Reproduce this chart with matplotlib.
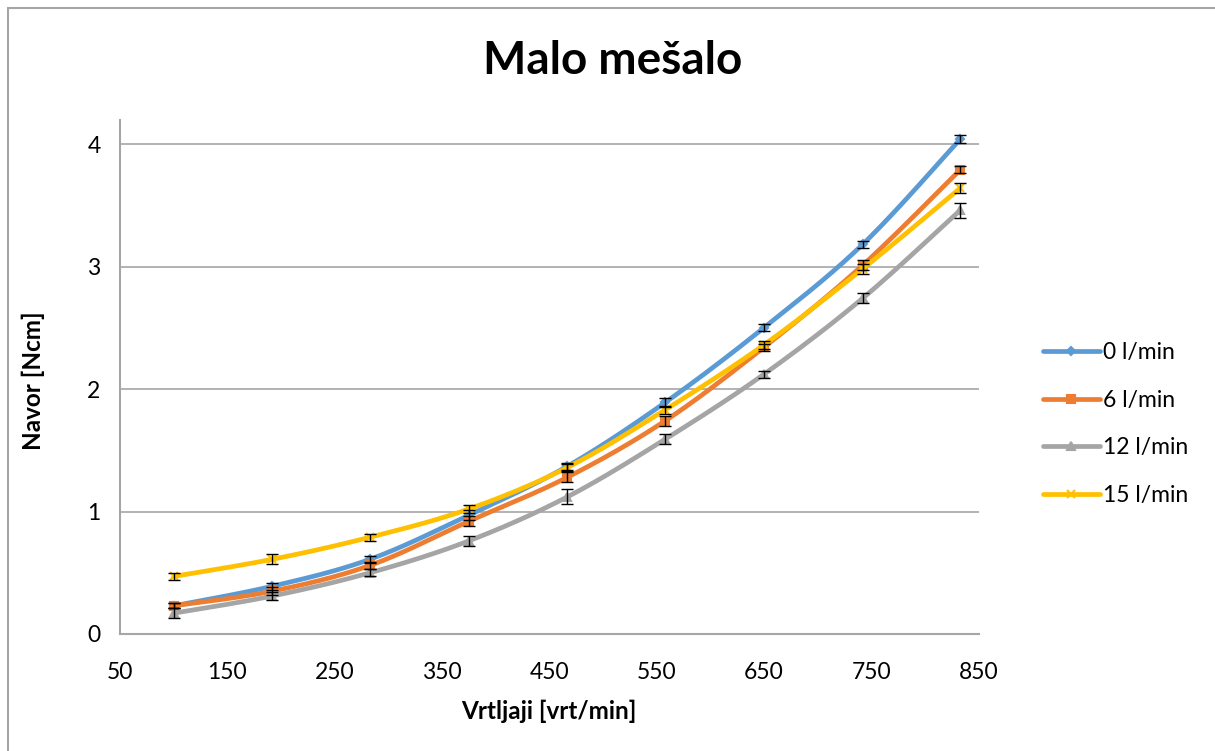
import numpy as np
import matplotlib
matplotlib.use("Agg")
import matplotlib.pyplot as plt
from matplotlib.patches import Rectangle
from matplotlib.lines import Line2D

plt.rcParams['font.family'] = ['Lato', 'DejaVu Sans']

# vrtljaji mesala
rpm = [100, 192, 283, 375, 467, 558, 650, 742, 833]

# navor pri razlicnih pretokih
navor_0 = [0.23, 0.39, 0.61, 0.97, 1.37, 1.89, 2.50, 3.18, 4.04]
navor_6 = [0.23, 0.35, 0.56, 0.92, 1.28, 1.74, 2.34, 3.01, 3.79]
navor_12 = [0.17, 0.31, 0.50, 0.76, 1.12, 1.59, 2.12, 2.74, 3.46]
navor_15 = [0.47, 0.61, 0.79, 1.02, 1.36, 1.83, 2.36, 2.98, 3.64]

# standardni odklon
err_0 = [0.02, 0.03, 0.03, 0.04, 0.03, 0.04, 0.03, 0.03, 0.03]
err_6 = [0.02, 0.03, 0.03, 0.04, 0.04, 0.04, 0.03, 0.04, 0.03]
err_12 = [0.04, 0.03, 0.03, 0.04, 0.06, 0.04, 0.03, 0.04, 0.06]
err_15 = [0.03, 0.04, 0.03, 0.03, 0.03, 0.03, 0.03, 0.04, 0.04]

labels = ['0 l/min', '6 l/min', '12 l/min', '15 l/min']
barve = ['#5B9BD5', '#ED7D31', '#A5A5A5', '#FFC000']
markerji = ['D', 's', '^', 'x']
velikosti = [4, 6, 6, 6]


def gladka(x, y, n=30):
    # zglajena krivulja (Bezier skozi tocke, kot v Excelu)
    x = np.asarray(x, float)
    y = np.asarray(y, float)
    P = np.column_stack([x, y])
    out = []
    for i in range(len(P) - 1):
        p0 = P[i - 1] if i > 0 else P[i]
        p1 = P[i]
        p2 = P[i + 1]
        p3 = P[i + 2] if i + 2 < len(P) else P[i + 1]
        c1 = p1 + (p2 - p0) / 6
        c2 = p2 - (p3 - p1) / 6
        t = np.linspace(0, 1, n)[:, None]
        seg = ((1 - t) ** 3) * p1 + 3 * ((1 - t) ** 2) * t * c1 + 3 * (1 - t) * t ** 2 * c2 + t ** 3 * p2
        out.append(seg if i == 0 else seg[1:])
    out = np.vstack(out)
    return out[:, 0], out[:, 1]


fig = plt.figure(figsize=(12.15, 7.51), dpi=100)
ax = fig.add_axes([120 / 1215, 1 - 634 / 751, 858.5 / 1215, 514 / 751])

# okvir grafikona
fig.patches.append(Rectangle((8 / 1215, -0.1), 1.2, 1.1 - 8 / 751, transform=fig.transFigure,
                             fill=False, edgecolor='#a6a6a6', linewidth=1.5))

serije = [navor_0, navor_6, navor_12, navor_15]
napake = [err_0, err_6, err_12, err_15]
handles = []
for i, (y, e) in enumerate(zip(serije, napake)):
    xs, ys = gladka(rpm, y)
    ax.plot(xs, ys, color=barve[i], linewidth=3.4, solid_capstyle='round', zorder=3 + i)
    ax.plot(rpm, y, linestyle='none', marker=markerji[i], markersize=velikosti[i],
            color=barve[i], markeredgecolor=barve[i], markeredgewidth=1.5, zorder=3 + i)
    handles.append(Line2D([0], [0], color=barve[i], linewidth=3.4, marker=markerji[i],
                          markersize=velikosti[i], markeredgewidth=1.5, solid_capstyle='round'))
for y, e in zip(serije, napake):
    ax.errorbar(rpm, y, yerr=e, fmt='none', ecolor='black', elinewidth=1, capsize=4,
                capthick=1, zorder=10)

ax.set_xlim(50, 850)
ax.set_ylim(0, 4.196)
ax.set_xticks(np.arange(50, 851, 100))
ax.set_yticks([0, 1, 2, 3, 4])
ax.grid(axis='y', color='#a6a6a6', linewidth=1.2)
ax.set_axisbelow(True)
for s in ['top', 'right']:
    ax.spines[s].set_visible(False)
for s in ['left', 'bottom']:
    ax.spines[s].set_color('#a6a6a6')
    ax.spines[s].set_linewidth(1.5)
ax.tick_params(length=0, labelsize=16.5, pad=14)
ax.tick_params(axis='x', pad=20)

fig.text(613 / 1215, 1 - 61 / 751, 'Malo mešalo', ha='center', va='center',
         fontsize=33, fontweight='bold')
fig.text(549 / 1215, 1 - 711 / 751, 'Vrtljaji [vrt/min]', ha='center', va='center',
         fontsize=17.5, fontweight='bold')
fig.text(33 / 1215, 1 - 381 / 751, 'Navor [Ncm]', ha='center', va='center',
         rotation=90, fontsize=17.5, fontweight='bold')

fig.legend(handles, labels, loc='center left', bbox_to_anchor=(1022 / 1215, 1 - 424 / 751),
           frameon=False, fontsize=16.5, handlelength=2.5, labelspacing=1.15, handletextpad=0.15)

fig.savefig('out.png', dpi=100)
